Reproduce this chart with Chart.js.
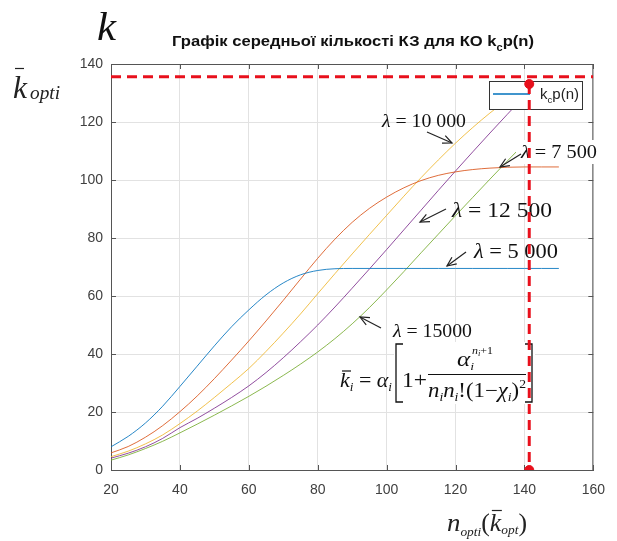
<!DOCTYPE html>
<html><head><meta charset="utf-8">
<script src="https://cdn.jsdelivr.net/npm/chart.js@4/dist/chart.umd.min.js"></script>
<style>html,body{margin:0;padding:0;background:#fff;}#wrap{position:relative;width:617px;height:541px;}</style>
</head><body><div id="wrap"><canvas id="c" width="617" height="541"></canvas></div>
<script>
// ---- data ----
const nValues = [20,25,30,35,40,45,50,55,60,65,70,75,80,85,90,95,100,105,110,115,120,125,130,135,140,145,150];
const k5000  = [8.0,11.6,16.2,22.0,28.8,35.8,42.8,49.4,55.2,60.4,64.5,67.3,68.8,69.4,69.5,69.5,69.5,69.5,69.5,69.5,69.5,69.5,69.5,69.5,69.5,69.5,69.5];
const k7500  = [5.9,8.1,11.3,15.3,20.1,25.5,31.5,37.9,44.5,51.4,58.5,65.8,73.0,79.6,85.4,90.2,94.1,97.3,99.8,101.6,102.8,103.6,104.1,104.4,104.5,104.5,104.5];
const k10000 = [4.6,6.5,9.0,12.1,16.0,20.3,25.0,29.9,35.0,40.9,47.2,53.8,60.8,67.7,74.5,81.2,87.8,94.4,100.8,106.9,112.7,118.1,123.1,127.7,null,null,null];
const k12500 = [4.1,5.8,8.0,10.9,14.6,17.8,21.3,25.0,29.0,33.6,38.7,44.2,50.0,56.2,62.7,69.3,76.0,82.8,89.6,96.4,103.1,109.7,116.2,122.6,128.9,null,null];
const k15000 = [3.4,5.2,7.4,9.9,12.8,15.8,18.9,22.1,25.4,28.9,32.6,36.5,40.7,45.3,50.4,56.0,62.1,68.4,74.9,81.3,87.7,94.0,100.3,106.5,112.6,null,null];
const lambdaLabels = ['λ = 5 000','λ = 7 500','λ = 10 000','λ = 12 500','λ = 15000'];
const xTicks = [20,40,60,80,100,120,140,160];
const yTicks = [0,20,40,60,80,100,120,140];
const optLevel = 135.6;   // horizontal dashed level
const optN = 141.4;       // vertical dashed position
const optK = 133.1;       // upper red point value
const titleMain = 'Графік середньої кількості КЗ для КО k';
const titleSub = 'c';
const titleEnd = 'p(n)';
const legendLabel = ['k','c','p(n)'];

// ---- styles ----
const curveColors = ['rgba(0,114,189,0.85)','rgba(217,83,25,0.85)','rgba(237,177,32,0.8)','rgba(126,47,142,0.85)','rgba(119,172,48,0.85)'];
const RED = 'rgb(232,16,28)';
const SANS = '"Liberation Sans",Arial,sans-serif';
const SERIF = '"Liberation Serif","Times New Roman",serif';

function pts(arr){const o=[];arr.forEach((v,i)=>{if(v!==null)o.push({x:nValues[i],y:v});});return o;}
const series=[k5000,k7500,k10000,k12500,k15000];
const datasets = series.map((s,i)=>({
  label: i===0 ? 'kcp(n)' : lambdaLabels[i],
  data: pts(s), borderColor: curveColors[i], borderWidth: 1, pointRadius: 0,
  cubicInterpolationMode: 'monotone', fill:false, order: 6+i
}));
datasets.push({label:'opt-h', data:[{x:xTicks[0],y:optLevel},{x:xTicks[xTicks.length-1],y:optLevel}], borderColor:RED, borderWidth:3, borderDash:[10,6], pointRadius:0, order:2});
datasets.push({label:'opt-v', data:[{x:optN,y:optK},{x:optN,y:0}], borderColor:RED, borderWidth:3, borderDash:[10,6], pointRadius:0, order:2});
datasets.push({label:'opt-p', data:[{x:optN,y:optK},{x:optN,y:0}], showLine:false, pointRadius:4.5, pointBackgroundColor:RED, pointBorderColor:RED, borderColor:RED, order:1});

function rich(ctx, parts, x0, x1, baseline, color){
  ctx.save();
  let w=0; parts.forEach(p=>{ctx.font=p.f; p.w=ctx.measureText(p.t).width; w+=p.w;});
  const sx = (x1!=null) ? (x1-x0)/w : 1;
  ctx.translate(x0, baseline); ctx.scale(sx,1);
  ctx.fillStyle=color||'#000'; ctx.textAlign='left'; ctx.textBaseline='alphabetic';
  let x=0; const pos=[];
  parts.forEach(p=>{ctx.font=p.f; ctx.fillText(p.t,x,p.dy||0); pos.push(x0+x*sx); x+=p.w;});
  ctx.restore();
  return pos;
}
function arrow(ctx,x1,y1,x2,y2){
  ctx.save(); ctx.strokeStyle='#222'; ctx.lineWidth=1.2;
  ctx.beginPath(); ctx.moveTo(x1,y1); ctx.lineTo(x2,y2); ctx.stroke();
  const a=Math.atan2(y2-y1,x2-x1), L=10, s=0.42;
  ctx.beginPath();
  ctx.moveTo(x2-L*Math.cos(a-s), y2-L*Math.sin(a-s)); ctx.lineTo(x2,y2);
  ctx.lineTo(x2-L*Math.cos(a+s), y2-L*Math.sin(a+s)); ctx.stroke();
  ctx.restore();
}
function line(ctx,x1,y1,x2,y2,w,c){ctx.save();ctx.strokeStyle=c||'#000';ctx.lineWidth=w||1;ctx.beginPath();ctx.moveTo(x1,y1);ctx.lineTo(x2,y2);ctx.stroke();ctx.restore();}
function white(ctx,x,y,w,h){ctx.save();ctx.fillStyle='#fff';ctx.fillRect(x,y,w,h);ctx.restore();}

function drawAnnotations(chart){
  const ctx=chart.ctx;
  // legend box
  white(ctx,489,81,94,29);
  ctx.save(); ctx.strokeStyle='#333'; ctx.lineWidth=1; ctx.strokeRect(489.5,81.5,93,28); ctx.restore();
  line(ctx,493,94,530,94,1.5,'rgb(0,114,189)');
  rich(ctx,[{t:legendLabel[0],f:'14px '+SANS},{t:legendLabel[1],f:'9px '+SANS,dy:4},{t:legendLabel[2],f:'14px '+SANS}],540,579,99,'#222');

  // lambda labels
  const L=(txt,x0,x1,b,sz)=>rich(ctx,[{t:'λ',f:'italic '+sz+'px '+SERIF},{t:txt,f:sz+'px '+SERIF}],x0,x1,b,'#111');
  L(' = 10 000',382,466,127,18);
  white(ctx,516,140,80,24);
  L(' = 7 500',521,597,158,19);
  L(' = 12 500',452,552,217,22);
  L(' = 5 000',474,558,258,21);
  L(' = 15000',393,472,337,18);
  arrow(ctx,427,132,452,143);
  arrow(ctx,521,154,500,167);
  arrow(ctx,446,209,420,222);
  arrow(ctx,466,252,447,266);
  arrow(ctx,381,328,360,317);

  // formula
  white(ctx,394,342,141,62);
  const I='italic 20px '+SERIF, R='20px '+SERIF, s='italic 12px '+SERIF;
  rich(ctx,[{t:'k',f:I},{t:'i',f:s,dy:4},{t:' = ',f:R},{t:'α',f:I},{t:'i',f:s,dy:4}],340,392,387,'#111');
  line(ctx,342,371,351,371,1.2,'#111');
  ctx.save(); ctx.strokeStyle='#111'; ctx.lineWidth=1.3; ctx.beginPath();
  ctx.moveTo(403,344); ctx.lineTo(396,344); ctx.lineTo(396,402); ctx.lineTo(403,402);
  ctx.moveTo(525,344); ctx.lineTo(532,344); ctx.lineTo(532,402); ctx.lineTo(525,402); ctx.stroke(); ctx.restore();
  rich(ctx,[{t:'1+',f:R}],402,427,387,'#111');
  rich(ctx,[{t:'α',f:I},{t:'i',f:'italic 11px '+SERIF,dy:4}],457,474,366,'#111');
  rich(ctx,[{t:'n',f:'italic 11px '+SERIF},{t:'i',f:'italic 8px '+SERIF,dy:2},{t:'+1',f:'11px '+SERIF}],472,493,354,'#111');
  line(ctx,428,374.5,526,374.5,1,'#111');
  rich(ctx,[{t:'n',f:I},{t:'i',f:s,dy:4},{t:'n',f:I},{t:'i',f:s,dy:4},{t:'!(1−',f:R},{t:'χ',f:I},{t:'i',f:s,dy:4},{t:')',f:R},{t:'2',f:'12px '+SERIF,dy:-9}],428,526,397,'#111');
}

const annot={
  id:'annot',
  beforeDatasetsDraw(chart){
    const ctx=chart.ctx, a=chart.chartArea, xs=chart.scales.x, ys=chart.scales.y;
    ctx.save(); ctx.strokeStyle='#555'; ctx.lineWidth=1;
    ctx.beginPath();
    ctx.moveTo(a.left,a.top+0.5); ctx.lineTo(a.right,a.top+0.5);
    ctx.moveTo(a.right-0.5,a.top); ctx.lineTo(a.right-0.5,a.bottom);
    xTicks.forEach(v=>{const x=Math.round(xs.getPixelForValue(v))+0.5; ctx.moveTo(x,a.bottom); ctx.lineTo(x,a.bottom-5); ctx.moveTo(x,a.top); ctx.lineTo(x,a.top+5);});
    yTicks.forEach(v=>{const y=Math.round(ys.getPixelForValue(v))+0.5; ctx.moveTo(a.left,y); ctx.lineTo(a.left+5,y); ctx.moveTo(a.right,y); ctx.lineTo(a.right-5,y);});
    ctx.stroke(); ctx.restore();
  },
  afterDatasetDraw(chart,args){ if(args.index===0) drawAnnotations(chart); },
  afterDraw(chart){
    const ctx=chart.ctx;
    rich(ctx,[{t:titleMain,f:'bold 15px '+SANS},{t:titleSub,f:'bold 10px '+SANS,dy:5},{t:titleEnd,f:'bold 15px '+SANS}],172,534,46,'#111');
    rich(ctx,[{t:'k',f:'italic 40px '+SERIF}],97,116,40,'#111');
    rich(ctx,[{t:'k',f:'italic 31px '+SERIF}],13,27,98,'#222');
    line(ctx,15,68.5,24,68.5,1.2,'#222');
    rich(ctx,[{t:'opti',f:'italic 19px '+SERIF}],30,60,99,'#222');
    const p=rich(ctx,[{t:'n',f:'italic 26px '+SERIF},{t:'opti',f:'italic 13px '+SERIF,dy:5},{t:'(',f:'25px '+SERIF},{t:'k',f:'italic 25px '+SERIF},{t:'opt',f:'italic 13px '+SERIF,dy:3},{t:')',f:'25px '+SERIF}],447,527,531,'#222');
    line(ctx,p[3]+2,510.5,p[3]+12,510.5,1.2,'#222');
  }
};

new Chart(document.getElementById('c'),{
  type:'line',
  data:{datasets},
  plugins:[annot],
  options:{
    responsive:false, animation:false, events:[],
    layout:{padding:{left:0,right:19,top:64,bottom:0}},
    plugins:{legend:{display:false},title:{display:false},tooltip:{enabled:false}},
    scales:{
      x:{type:'linear',min:20,max:160,
        afterBuildTicks(s){s.ticks=xTicks.map(v=>({value:v}));},
        afterFit(s){s.height=71;},
        grid:{color:'#e2e2e2',drawTicks:false},
        border:{color:'#555',width:1},
        ticks:{padding:12,color:'#404040',font:{family:SANS,size:14}}},
      y:{type:'linear',min:0,max:140,
        afterBuildTicks(s){s.ticks=yTicks.map(v=>({value:v}));},
        afterFit(s){s.width=111;},
        grid:{color:'#e2e2e2',drawTicks:false},
        border:{color:'#555',width:1},
        ticks:{padding:8,color:'#404040',font:{family:SANS,size:14}}}
    }
  }
});
</script></body></html>
